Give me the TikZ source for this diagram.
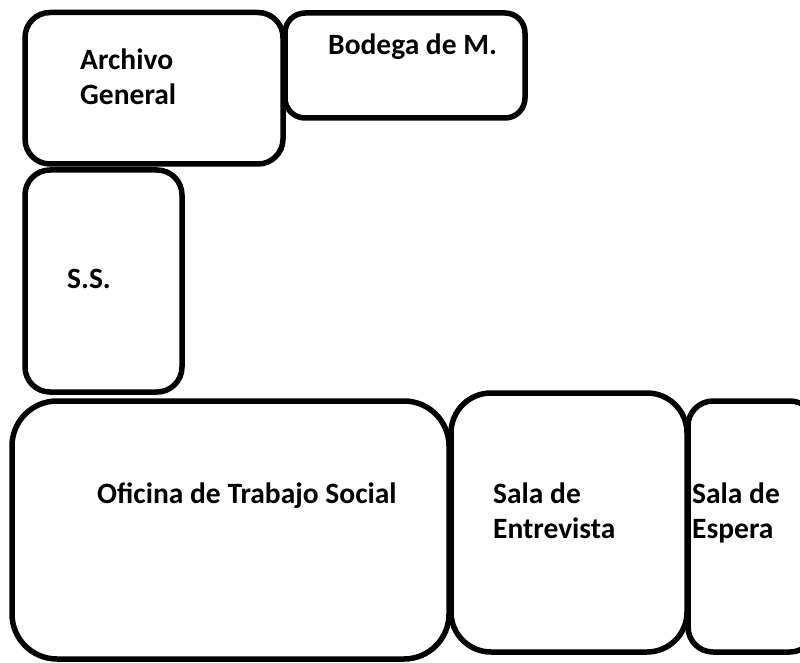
\documentclass[tikz,border=0pt]{standalone}
\usepackage{fontspec}
\setmainfont{Carlito}
\begin{document}
\begin{tikzpicture}[x=1pt,y=-1pt,
  room/.style={draw=black,line width=5.5pt,rounded corners=#1},
  room/.default=25pt,
  lbl/.style={font=\bfseries\fontsize{29.5}{35}\selectfont,inner sep=0pt,anchor=base west,align=left}]
\useasboundingbox (0,0) rectangle (800,663);
\clip (0,0) rectangle (800,663);
\fill[white] (0,0) rectangle (800,663);
% rooms
\draw[room=25pt] (25,12.5) rectangle (283,164);
\draw[room=20pt] (285,13) rectangle (525,118);
\draw[room=25pt] (25,170) rectangle (182,392);
\draw[room=45pt] (12,401) rectangle (449,659);
\draw[room=40pt] (451,393) rectangle (687,652);
\draw[room=25pt] (688,401) rectangle (815,652);
% labels
\node[lbl] (archivo) at (80,105) {Archivo\\General};
\node[lbl] (bodega) at (328,55) {Bodega de M.};
\node[lbl] (ss) at (67,288) {S.S.};
\node[lbl] (oficina) at (97,503) {Oficina de Trabajo Social};
\node[lbl] (entrevista) at (493,538) {Sala de\\Entrevista};
\node[lbl] (espera) at (692,538) {Sala de\\Espera};
\end{tikzpicture}
\end{document}
